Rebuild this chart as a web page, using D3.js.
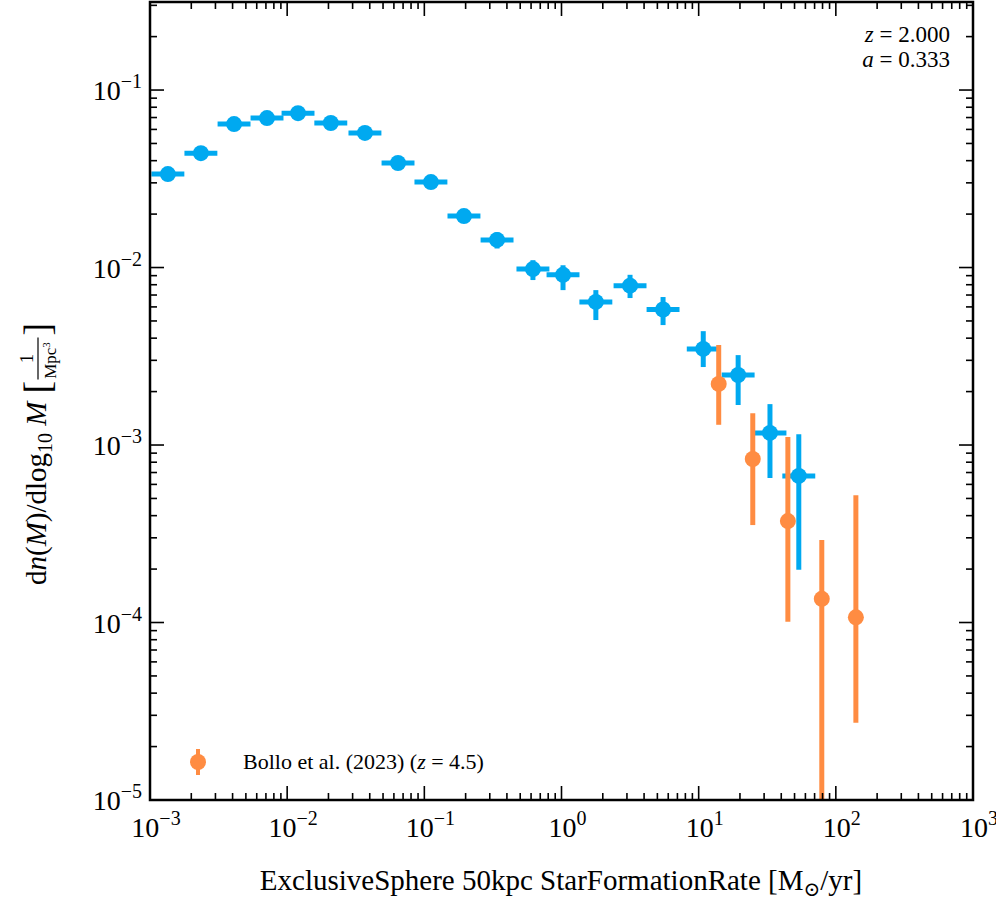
<!DOCTYPE html>
<html><head><meta charset="utf-8">
<script src="https://cdn.jsdelivr.net/npm/d3@7"></script>
<style>body{margin:0;background:#fff}</style>
</head><body><svg id="c" width="996" height="900" font-family="Liberation Serif, Times New Roman, DejaVu Serif, serif"></svg>
<script>
const blueX=[0.00135,0.00235,0.0041,0.00713,0.0120,0.0208,0.0369,0.0643,0.1117,0.1945,0.339,0.619,1.026,1.78,3.16,5.50,10.8,19.4,33.1,53.7];
const blueY=[0.0336,0.0441,0.0643,0.0695,0.0741,0.0652,0.0573,0.0388,0.0303,0.0195,0.0143,0.0098,0.0091,0.0064,0.0079,0.0058,0.00348,0.00248,0.00117,0.00067];
const blueYhi=[0.0360,0.0470,0.0680,0.0735,0.0785,0.0690,0.0605,0.0412,0.0322,0.0210,0.0158,0.0110,0.0103,0.00746,0.0091,0.00682,0.00438,0.00321,0.00170,0.00115];
const blueYlo=[0.0312,0.0412,0.0605,0.0655,0.0700,0.0615,0.0540,0.0364,0.0284,0.0180,0.0128,0.0085,0.00746,0.00506,0.00673,0.00474,0.00275,0.00168,0.000652,0.000198];
const blueHalfDex=0.12;
const oraX=[14.0,24.8,44.7,79,140];
const oraY=[0.00221,0.000834,0.000373,0.000136,0.000107];
const oraYhi=[0.00366,0.00151,0.00111,0.000292,0.000522];
const oraYlo=[0.0013,0.000354,0.000101,0.000001,0.0000272];
const xTicks=[1e-3,1e-2,1e-1,1,10,100,1000];
const yTicks=[1e-5,1e-4,1e-3,1e-2,1e-1];
const BLUE="#00a9f0",ORANGE="#ff8c42";

const svg=d3.select("#c");
const L=150,R=973,T=2,B=800;
const x=d3.scaleLog().domain([1e-3,1e3]).range([L,R]);
const y=d3.scaleLog().domain([1e-5,Math.pow(10,-0.504)]).range([B,T]);
const g=svg.append("g");
g.append("defs").append("clipPath").attr("id","cp").append("rect").attr("x",L).attr("y",T).attr("width",R-L).attr("height",B-T);
const plot=g.append("g").attr("clip-path","url(#cp)");

blueX.forEach((v,i)=>{
  plot.append("line").attr("x1",x(v/Math.pow(10,blueHalfDex))).attr("x2",x(v*Math.pow(10,blueHalfDex))).attr("y1",y(blueY[i])).attr("y2",y(blueY[i])).attr("stroke",BLUE).attr("stroke-width",5);
  plot.append("line").attr("x1",x(v)).attr("x2",x(v)).attr("y1",y(blueYlo[i])).attr("y2",y(blueYhi[i])).attr("stroke",BLUE).attr("stroke-width",5);
  plot.append("circle").attr("cx",x(v)).attr("cy",y(blueY[i])).attr("r",8).attr("fill",BLUE);
});
oraX.forEach((v,i)=>{
  plot.append("line").attr("x1",x(v)).attr("x2",x(v)).attr("y1",y(oraYlo[i])).attr("y2",y(oraYhi[i])).attr("stroke",ORANGE).attr("stroke-width",5);
  plot.append("circle").attr("cx",x(v)).attr("cy",y(oraY[i])).attr("r",8).attr("fill",ORANGE);
});

g.append("rect").attr("x",L).attr("y",T).attr("width",R-L).attr("height",B-T).attr("fill","none").attr("stroke","#000").attr("stroke-width",2.5);
function minors(lo,hi){const a=[];for(let e=lo;e<hi;e++)for(let k=2;k<10;k++)a.push(k*Math.pow(10,e));return a;}
const tk=g.append("g").attr("stroke","#000").attr("stroke-width",1.6);
xTicks.forEach(v=>{tk.append("line").attr("x1",x(v)).attr("x2",x(v)).attr("y1",B).attr("y2",B-14);tk.append("line").attr("x1",x(v)).attr("x2",x(v)).attr("y1",T).attr("y2",T+14);});
minors(-3,3).forEach(v=>{tk.append("line").attr("x1",x(v)).attr("x2",x(v)).attr("y1",B).attr("y2",B-7);tk.append("line").attr("x1",x(v)).attr("x2",x(v)).attr("y1",T).attr("y2",T+7);});
yTicks.forEach(v=>{tk.append("line").attr("y1",y(v)).attr("y2",y(v)).attr("x1",L).attr("x2",L+14);tk.append("line").attr("y1",y(v)).attr("y2",y(v)).attr("x1",R).attr("x2",R-14);});
minors(-5,0).filter(v=>v<=Math.pow(10,-0.504)).forEach(v=>{tk.append("line").attr("y1",y(v)).attr("y2",y(v)).attr("x1",L).attr("x2",L+7);tk.append("line").attr("y1",y(v)).attr("y2",y(v)).attr("x1",R).attr("x2",R-7);});
xTicks.forEach(v=>{const e=Math.round(Math.log10(v));const t=g.append("text").attr("x",x(v)+6).attr("y",B+37).attr("text-anchor","middle").attr("font-size",28);
  t.append("tspan").text("10");t.append("tspan").attr("dy",-12).attr("font-size",20).text(e<0?"\u2212"+(-e):e);});
yTicks.forEach(v=>{const e=Math.round(Math.log10(v));const t=g.append("text").attr("x",L-8).attr("y",y(v)+10).attr("text-anchor","end").attr("font-size",28);
  t.append("tspan").text("10");t.append("tspan").attr("dy",-12).attr("font-size",20).text("\u2212"+(-e));});
const xl=g.append("text").attr("x",561).attr("y",890).attr("text-anchor","middle").attr("font-size",29);
xl.append("tspan").text("ExclusiveSphere 50kpc StarFormationRate [M");
xl.append("tspan").attr("dy",6).attr("font-size",20).text("\u2299");
xl.append("tspan").attr("dy",-6).text("/yr]");
// y label
const yl=g.append("g").attr("transform","translate(46,585) rotate(-90)");
const yt=yl.append("text").attr("x",0).attr("y",0).attr("font-size",29);
yt.append("tspan").text("d");yt.append("tspan").attr("font-style","italic").text("n");yt.append("tspan").text("(");
yt.append("tspan").attr("font-style","italic").text("M");yt.append("tspan").text(")/dlog");
yt.append("tspan").attr("dy",6).attr("font-size",20).text("10");yt.append("tspan").attr("dy",-6).text(" ");
yt.append("tspan").attr("font-style","italic").text("M");
const w=yt.node().getComputedTextLength()+8;
yl.append("text").attr("x",w).attr("y",4).attr("font-size",38).text("[");
yl.append("text").attr("x",w+58).attr("y",4).attr("font-size",38).text("]");
yl.append("text").attr("x",w+35).attr("y",-13).attr("text-anchor","middle").attr("font-size",18).text("1");
yl.append("line").attr("x1",w+14).attr("x2",w+56).attr("y1",-8).attr("y2",-8).attr("stroke","#000").attr("stroke-width",1.2);
const mp=yl.append("text").attr("x",w+33).attr("y",10).attr("text-anchor","middle").attr("font-size",17);
mp.append("tspan").text("Mpc");mp.append("tspan").attr("dy",-6).attr("font-size",11).text("3");
[["z","2.000",42],["a","0.333",67]].forEach(([s,v,yy])=>{const t=g.append("text").attr("x",950).attr("y",yy).attr("text-anchor","end").attr("font-size",23);
  t.append("tspan").attr("font-style","italic").text(s);t.append("tspan").text(" = "+v);});
g.append("line").attr("x1",198).attr("x2",198).attr("y1",749).attr("y2",775).attr("stroke",ORANGE).attr("stroke-width",4);
g.append("circle").attr("cx",198).attr("cy",762).attr("r",8).attr("fill",ORANGE);
const lt=g.append("text").attr("x",243).attr("y",769).attr("font-size",22);
lt.append("tspan").text("Bollo et al. (2023) (");lt.append("tspan").attr("font-style","italic").text("z");lt.append("tspan").text(" = 4.5)");
</script></body></html>
